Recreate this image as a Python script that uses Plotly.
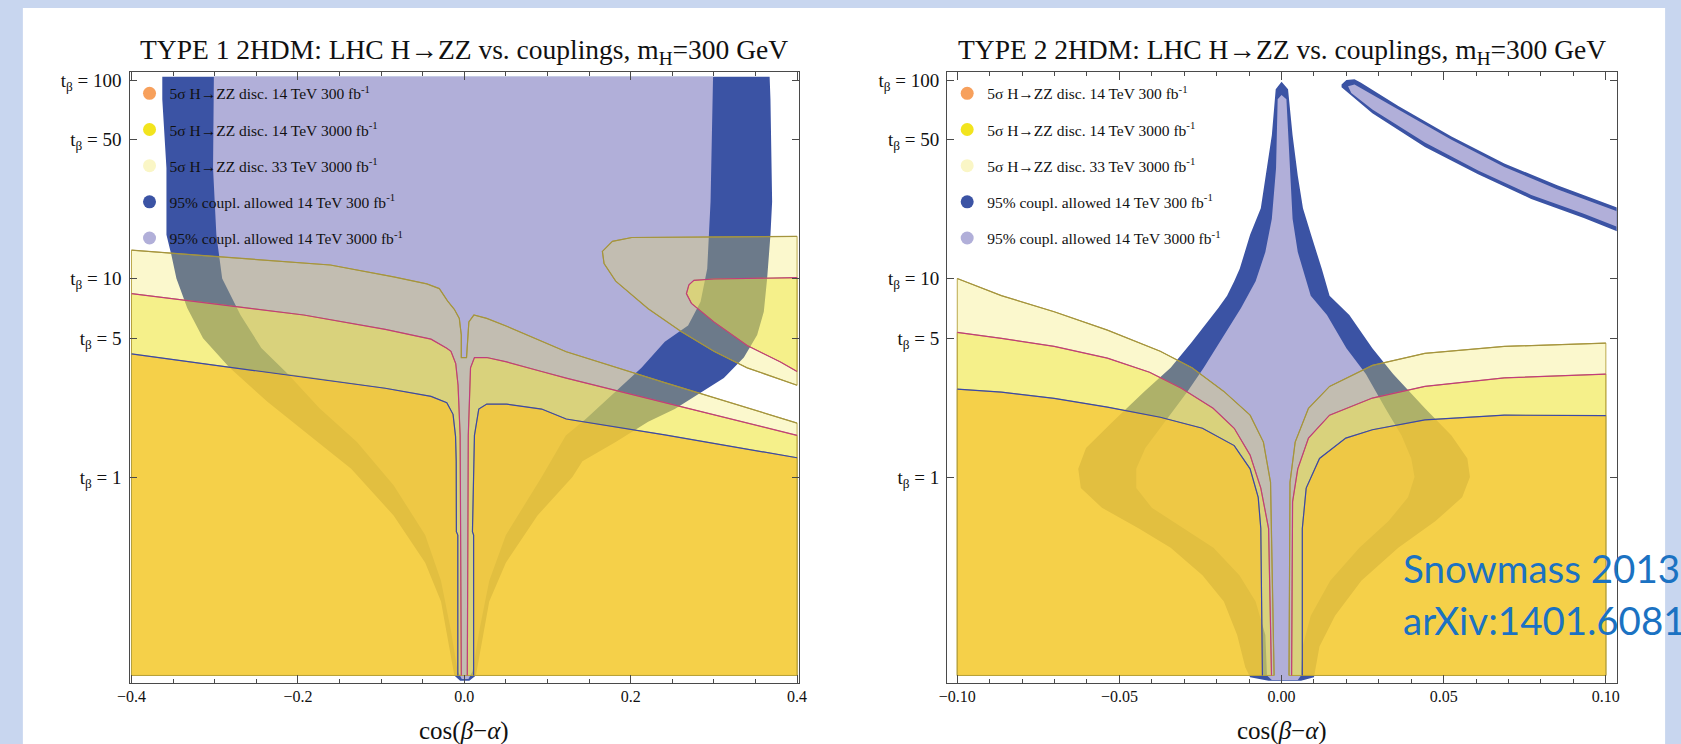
import plotly.graph_objects as go

# ---------------- data (cos(beta-alpha), tan(beta)) ----------------
T_MIN = 0.1                      # lower end of the tan(beta) scan
T1_XLIM = (-0.4, 0.4)
T2_XLIM = (-0.1, 0.1)

# ===== TYPE 1 =====
# 5 sigma H->ZZ discovery boundaries
T1_D300_L = [(-0.400, 4.17), (-0.288, 3.60), (-0.193, 3.20), (-0.095, 2.80), (-0.040, 2.55),
             (-0.021, 2.37), (-0.0135, 2.07), (-0.0105, 1.60), (-0.0097, 1.20), (-0.0095, 0.53),
             (-0.0078, 0.51), (-0.0078, 0.10)]
T1_D300_R = [(0.0112, 0.10), (0.0112, 0.51), (0.0098, 0.53), (0.0107, 1.03), (0.0122, 1.62),
             (0.0174, 2.20), (0.0270, 2.33), (0.051, 2.33), (0.093, 2.20), (0.1225, 1.96),
             (0.241, 1.63), (0.400, 1.25)]
T1_D3000_L = [(-0.400, 8.4), (-0.288, 7.35), (-0.193, 6.55), (-0.095, 5.55), (-0.040, 4.95),
              (-0.021, 4.45), (-0.016, 4.30), (-0.0103, 3.73), (-0.0075, 2.90), (-0.0050, 1.62),
              (-0.0036, 0.10)]
T1_D3000_R = [(0.0036, 0.10), (0.0048, 1.62), (0.0075, 3.55), (0.0122, 4.00), (0.027, 4.00),
              (0.051, 3.80), (0.093, 3.40), (0.1225, 3.15), (0.241, 2.37), (0.400, 1.62)]
T1_D3000_LOOP = [(0.400, 10.1), (0.350, 10.05), (0.300, 9.95), (0.276, 9.8), (0.270, 9.3),
                 (0.267, 8.4), (0.273, 7.5), (0.300, 6.05), (0.340, 4.6), (0.380, 3.8), (0.400, 3.4)]
T1_D33_L = [(-0.400, 13.9), (-0.288, 12.8), (-0.161, 11.7), (-0.085, 10.2), (-0.045, 9.4),
            (-0.030, 8.9), (-0.020, 7.7), (-0.012, 7.0), (-0.006, 6.3), (-0.0036, 5.2), (-0.0036, 4.0)]
T1_D33_R = [(0.0027, 4.0), (0.0055, 6.05), (0.0115, 6.55), (0.027, 6.3), (0.051, 5.75),
            (0.1225, 4.28), (0.241, 2.99), (0.400, 1.87)]
T1_D33_LOOP = [(0.400, 16.3), (0.300, 16.2), (0.2014, 16.1), (0.178, 15.4), (0.166, 13.7),
               (0.168, 11.9), (0.182, 9.7), (0.221, 7.05), (0.261, 5.4), (0.300, 4.3),
               (0.340, 3.55), (0.400, 2.9)]
# 95% coupling-allowed regions
T1_C300 = [(-0.363, 104), (-0.363, 80), (-0.358, 36), (-0.358, 16.6), (-0.352, 13.1), (-0.346, 10.0),
           (-0.333, 7.1), (-0.314, 5.0), (-0.282, 3.55), (-0.237, 2.4), (-0.186, 1.62), (-0.136, 1.1),
           (-0.085, 0.64), (-0.047, 0.37), (-0.028, 0.236), (-0.018, 0.138), (-0.012, 0.100),
           (-0.005, 0.094), (0.006, 0.094), (0.014, 0.100), (0.020, 0.138), (0.030, 0.236),
           (0.050, 0.37), (0.088, 0.64), (0.130, 1.0), (0.142, 1.2), (0.182, 1.5), (0.221, 1.9),
           (0.253, 2.2), (0.280, 2.6), (0.312, 3.15), (0.336, 4.0), (0.352, 5.2), (0.360, 6.8),
           (0.364, 10.0), (0.368, 16.6), (0.370, 24.4), (0.368, 80), (0.367, 104)]
T1_C3000 = [(-0.301, 104), (-0.302, 36), (-0.298, 16.6), (-0.291, 10.0), (-0.269, 6.55),
            (-0.244, 4.47), (-0.212, 3.3), (-0.174, 2.22), (-0.129, 1.5), (-0.085, 0.91),
            (-0.047, 0.51), (-0.028, 0.30), (-0.016, 0.168), (-0.008, 0.105), (-0.003, 0.096),
            (0.005, 0.096), (0.010, 0.105), (0.018, 0.168), (0.030, 0.30), (0.050, 0.51),
            (0.093, 1.0), (0.122, 1.62), (0.146, 1.96), (0.182, 2.7), (0.213, 3.55), (0.241, 4.8),
            (0.269, 5.8), (0.284, 7.65), (0.292, 11.2), (0.296, 24.4), (0.298, 80), (0.299, 104)]

# ===== TYPE 2 =====
T2_D300_L = [(-0.100, 2.77), (-0.0864, 2.68), (-0.0701, 2.49), (-0.0537, 2.25), (-0.0374, 2.00),
             (-0.0244, 1.76), (-0.0146, 1.44), (-0.0097, 1.10), (-0.0072, 0.79), (-0.0064, 0.55),
             (-0.0059, 0.10)]
T2_D300_R = [(0.0064, 0.10), (0.0064, 0.55), (0.0076, 0.88), (0.0117, 1.24), (0.0198, 1.57),
             (0.0280, 1.73), (0.0442, 1.94), (0.0687, 2.05), (0.100, 2.04)]
T2_D3000_L = [(-0.100, 5.35), (-0.0864, 5.00), (-0.0701, 4.55), (-0.0537, 3.97), (-0.0407, 3.37),
              (-0.0309, 2.80), (-0.0211, 2.22), (-0.0146, 1.76), (-0.0097, 1.29), (-0.0064, 0.88),
              (-0.0040, 0.55), (-0.0031, 0.10)]
T2_D3000_R = [(0.0031, 0.10), (0.0034, 0.75), (0.0050, 1.10), (0.0083, 1.57), (0.0148, 2.05),
              (0.0280, 2.50), (0.0442, 2.86), (0.0687, 3.16), (0.100, 3.30)]
T2_D33_L = [(-0.100, 10.0), (-0.0864, 8.2), (-0.0701, 6.8), (-0.0537, 5.5), (-0.0374, 4.3),
            (-0.0276, 3.55), (-0.0178, 2.70), (-0.0097, 2.05), (-0.0056, 1.50), (-0.0034, 0.94),
            (-0.0023, 0.10)]
T2_D33_R = [(0.0023, 0.10), (0.0026, 0.94), (0.0042, 1.50), (0.0083, 2.22), (0.0148, 2.86),
            (0.0280, 3.65), (0.0442, 4.20), (0.0687, 4.55), (0.100, 4.73)]
T2_C300 = [(0.0, 98), (-0.0018, 90), (-0.0030, 52.8), (-0.0050, 33), (-0.0064, 22.6), (-0.0097, 16.6),
           (-0.0129, 11.2), (-0.0146, 9.7), (-0.0168, 8.2), (-0.0195, 7.1), (-0.0276, 4.8),
           (-0.0342, 3.55), (-0.0423, 2.7), (-0.0521, 1.9), (-0.0603, 1.4), (-0.0627, 1.1),
           (-0.0619, 0.88), (-0.0554, 0.70), (-0.0440, 0.55), (-0.0342, 0.44), (-0.0244, 0.32),
           (-0.0178, 0.236), (-0.0137, 0.16), (-0.0112, 0.11), (-0.0097, 0.098), (-0.004, 0.094),
           (0.006, 0.094), (0.010, 0.098), (0.0117, 0.14), (0.0165, 0.20), (0.0246, 0.30),
           (0.0360, 0.44), (0.0475, 0.60), (0.0557, 0.79), (0.0581, 1.0), (0.0573, 1.24),
           (0.0524, 1.62), (0.0442, 2.22), (0.0344, 3.3), (0.0280, 4.45), (0.0209, 6.55),
           (0.0148, 8.2), (0.0124, 11.2), (0.0091, 16.6), (0.0066, 22.6), (0.0050, 33),
           (0.0034, 52.8), (0.0020, 90)]
T2_C3000 = [(0.0, 84), (-0.0012, 80), (-0.0017, 36), (-0.0030, 20), (-0.0050, 13.6), (-0.0080, 9.7),
            (-0.0125, 7.1), (-0.0190, 4.8), (-0.0240, 3.55), (-0.0290, 2.7), (-0.0360, 1.9),
            (-0.0420, 1.4), (-0.0448, 1.1), (-0.0448, 0.88), (-0.0400, 0.70), (-0.0300, 0.55),
            (-0.0210, 0.44), (-0.0130, 0.32), (-0.0080, 0.236), (-0.0050, 0.16), (-0.0045, 0.10),
            (-0.0030, 0.095), (0.0050, 0.095), (0.0060, 0.10), (0.0065, 0.14), (0.0090, 0.20),
            (0.0150, 0.30), (0.0240, 0.44), (0.0330, 0.60), (0.0390, 0.79), (0.0410, 1.0),
            (0.0400, 1.24), (0.0370, 1.62), (0.0320, 2.22), (0.0260, 3.3), (0.0200, 4.45),
            (0.0140, 6.55), (0.0090, 8.2), (0.0050, 13.6), (0.0034, 20), (0.0026, 36), (0.0015, 80)]
# wrong-sign branch (upper and lower edges)
T2_ARC300_UP = [(0.0185, 95), (0.0200, 100), (0.0225, 101), (0.0245, 97), (0.036, 74), (0.0524, 52),
                (0.0687, 38), (0.085, 29.5), (0.1035, 22.8)]
T2_ARC300_LO = [(0.1035, 17.3), (0.0932, 20.2), (0.077, 25.2), (0.0606, 33.5), (0.0442, 46),
                (0.028, 68), (0.0215, 84), (0.0185, 92)]
T2_ARC3000_UP = [(0.0205, 93), (0.0225, 95), (0.036, 71), (0.0524, 50), (0.0687, 36.5),
                 (0.085, 28.2), (0.1035, 21.8)]
T2_ARC3000_LO = [(0.1035, 18.2), (0.0932, 21.2), (0.077, 26.4), (0.0606, 35), (0.0442, 48.5),
                 (0.028, 71), (0.0215, 86)]

# ticks / labels
Y_TICKS = [1, 5, 10, 50, 100]
Y_TICKTEXT = ["t<sub>β</sub> = 1", "t<sub>β</sub> = 5", "t<sub>β</sub> = 10",
              "t<sub>β</sub> = 50", "t<sub>β</sub> = 100"]
T1_XTICKS = [-0.4, -0.2, 0.0, 0.2, 0.4]
T1_XTICKTEXT = ["−0.4", "−0.2", "0.0", "0.2", "0.4"]
T2_XTICKS = [-0.10, -0.05, 0.0, 0.05, 0.10]
T2_XTICKTEXT = ["−0.10", "−0.05", "0.00", "0.05", "0.10"]
LEGEND_LABELS = ["5σ H→ZZ disc. 14 TeV 300 fb<sup>-1</sup>",
                 "5σ H→ZZ disc. 14 TeV 3000 fb<sup>-1</sup>",
                 "5σ H→ZZ disc. 33 TeV 3000 fb<sup>-1</sup>",
                 "95% coupl. allowed 14 TeV 300 fb<sup>-1</sup>",
                 "95% coupl. allowed 14 TeV 3000 fb<sup>-1</sup>"]
TITLES = ["TYPE 1 2HDM: LHC H→ZZ vs. couplings, m<sub>H</sub>=300 GeV",
          "TYPE 2 2HDM: LHC H→ZZ vs. couplings, m<sub>H</sub>=300 GeV"]

# ---------------- styling ----------------
SERIF = "Liberation Serif, Times New Roman, serif"
FRAME = "#4a4a4a"
LEGEND_COLORS = ["#f7a05c", "#f2e41e", "#faf6c6", "#3b53a4", "#b1afd9"]
C_BLUE = "#3b53a4"
C_LAV = "#b1afd9"
F_LY = "rgba(240,229,70,0.27)"
F_Y = "rgba(239,232,71,0.50)"
F_GOLD = "rgba(245,196,50,0.73)"
EDGE = "rgba(180,160,60,0.9)"
L_OLIVE = "#a4943e"
L_MAG = "#c23c7c"
L_BLUE = "#3a48aa"


def join(polys, close):
    xs, ys = [], []
    for i, p in enumerate(polys):
        if i:
            xs.append(None)
            ys.append(None)
        pts = p + [p[0]] if close else p
        xs += [q[0] for q in pts]
        ys += [q[1] for q in pts]
    return xs, ys


def region(polys, fill, xa, ya, edge=None, width=0):
    xs, ys = join(polys, True)
    return go.Scatter(x=xs, y=ys, mode="lines", fill="toself", fillcolor=fill,
                      line=dict(color=edge or fill, width=width), xaxis=xa, yaxis=ya,
                      hoverinfo="skip", showlegend=False)


def curve(segs, color, xa, ya):
    xs, ys = join(segs, False)
    return go.Scatter(x=xs, y=ys, mode="lines", line=dict(color=color, width=1.2),
                      xaxis=xa, yaxis=ya, hoverinfo="skip", showlegend=False)


fig = go.Figure()

# ---- TYPE 1 panel ----
x0, x1 = T1_XLIM
fig.add_trace(region([T1_C300], C_BLUE, "x", "y"))
fig.add_trace(region([T1_C3000], C_LAV, "x", "y"))
fig.add_trace(region([[(x0, T_MIN)] + T1_D33_L + T1_D33_R + [(x1, T_MIN)], T1_D33_LOOP],
                     F_LY, "x", "y", EDGE, 1))
fig.add_trace(region([[(x0, T_MIN)] + T1_D3000_L, T1_D3000_R + [(x1, T_MIN)], T1_D3000_LOOP],
                     F_Y, "x", "y", EDGE, 1))
fig.add_trace(region([[(x0, T_MIN)] + T1_D300_L, T1_D300_R + [(x1, T_MIN)]],
                     F_GOLD, "x", "y", EDGE, 1))
fig.add_trace(curve([T1_D33_L + T1_D33_R, T1_D33_LOOP], L_OLIVE, "x", "y"))
fig.add_trace(curve([T1_D3000_L, T1_D3000_R, T1_D3000_LOOP], L_MAG, "x", "y"))
fig.add_trace(curve([T1_D300_L, T1_D300_R], L_BLUE, "x", "y"))

# ---- TYPE 2 panel ----
x0, x1 = T2_XLIM
fig.add_trace(region([T2_C300, T2_ARC300_UP + T2_ARC300_LO], C_BLUE, "x2", "y2"))
fig.add_trace(region([T2_C3000, T2_ARC3000_UP + T2_ARC3000_LO], C_LAV, "x2", "y2"))
fig.add_trace(region([[(x0, T_MIN)] + T2_D33_L, T2_D33_R + [(x1, T_MIN)]], F_LY, "x2", "y2", EDGE, 1))
fig.add_trace(region([[(x0, T_MIN)] + T2_D3000_L, T2_D3000_R + [(x1, T_MIN)]], F_Y, "x2", "y2", EDGE, 1))
fig.add_trace(region([[(x0, T_MIN)] + T2_D300_L, T2_D300_R + [(x1, T_MIN)]], F_GOLD, "x2", "y2", EDGE, 1))
fig.add_trace(curve([T2_D33_L, T2_D33_R], L_OLIVE, "x2", "y2"))
fig.add_trace(curve([T2_D3000_L, T2_D3000_R], L_MAG, "x2", "y2"))
fig.add_trace(curve([T2_D300_L, T2_D300_R], L_BLUE, "x2", "y2"))

# ---- legends (one per panel) ----
for lg, xa, ya in (("legend", "x", "y"), ("legend2", "x2", "y2")):
    for i, (lab, col) in enumerate(zip(LEGEND_LABELS, LEGEND_COLORS)):
        fig.add_trace(go.Scatter(x=[None], y=[None], mode="markers", name=lab,
                                 marker=dict(size=13, color=col), legend=lg,
                                 legendgroup=f"{lg}{i}", xaxis=xa, yaxis=ya))

W, H = 1681, 744
PX = lambda px: px / W
PY = lambda py: (H - py) / H

common_x = dict(ticks="inside", ticklen=8, tickwidth=1, tickcolor=FRAME, showline=True,
                linecolor=FRAME, linewidth=1.3, mirror="allticks", showgrid=False, zeroline=False,
                tickfont=dict(family=SERIF, size=16, color="#111"), ticklabelstandoff=-2)
common_y = dict(type="log", range=[-1.0387, 2.0417], tickvals=Y_TICKS, ticktext=Y_TICKTEXT,
                ticks="inside", ticklen=7, tickwidth=1, tickcolor=FRAME, showline=True,
                linecolor=FRAME, linewidth=1.3, mirror="allticks", showgrid=False, zeroline=False,
                tickfont=dict(family=SERIF, size=19, color="#111"), ticklabelstandoff=3,
                domain=[PY(683), PY(70)])

leg_common = dict(xanchor="left", yanchor="top", bgcolor="rgba(0,0,0,0)", borderwidth=0,
                  font=dict(family=SERIF, size=15.5, color="#111"), tracegroupgap=13,
                  itemsizing="trace")

fig.update_layout(
    width=W, height=H, margin=dict(l=0, r=0, t=0, b=0),
    paper_bgcolor="#c8d6ef", plot_bgcolor="white", showlegend=True,
    xaxis=dict(domain=[PX(118), PX(796)], range=[-0.40237, 0.40237], anchor="y",
               tickvals=T1_XTICKS, ticktext=T1_XTICKTEXT,
               minor=dict(tickmode="linear", tick0=0, dtick=0.05, ticks="inside", ticklen=4,
                          tickcolor=FRAME), **common_x),
    xaxis2=dict(domain=[PX(946), PX(1624)], range=[-0.10311, 0.10335], anchor="y2",
                tickvals=T2_XTICKS, ticktext=T2_XTICKTEXT,
                minor=dict(tickmode="linear", tick0=0, dtick=0.01, ticks="inside", ticklen=4,
                           tickcolor=FRAME), **common_x),
    yaxis=dict(anchor="x", **common_y),
    yaxis2=dict(anchor="x2", **common_y),
    legend=dict(x=PX(118), y=PY(75), **leg_common),
    legend2=dict(x=PX(946), y=PY(75), **leg_common),
    shapes=[dict(type="rect", xref="paper", yref="paper", x0=PX(10), x1=PX(1673), y0=0, y1=PY(6),
                 fillcolor="white", line=dict(width=0), layer="below")],
)

annots = []
for cx, txt in ((457, TITLES[0]), (1285, TITLES[1])):
    annots.append(dict(x=PX(cx), y=PY(50), xref="paper", yref="paper", text=txt, showarrow=False,
                       xanchor="center", yanchor="middle",
                       font=dict(family=SERIF, size=27.5, color="#111")))
    annots.append(dict(x=PX(cx), y=PY(731), xref="paper", yref="paper",
                       text="cos(<i>β</i>−<i>α</i>)", showarrow=False, xanchor="center",
                       yanchor="middle", font=dict(family=SERIF, size=25, color="#111")))
annots.append(dict(x=PX(1406), y=PY(568), xref="paper", yref="paper", text="Snowmass 2013",
                   showarrow=False, xanchor="left", yanchor="middle",
                   font=dict(family="Lato, sans-serif", size=38.5, color="#1b72c2")))
annots.append(dict(x=PX(1406), y=PY(620), xref="paper", yref="paper", text="arXiv:1401.6081",
                   showarrow=False, xanchor="left", yanchor="middle",
                   font=dict(family="Lato, sans-serif", size=38.5, color="#1b72c2")))
fig.update_layout(annotations=annots)

fig.write_html("out.html", include_plotlyjs=True, config={"displayModeBar": False})
